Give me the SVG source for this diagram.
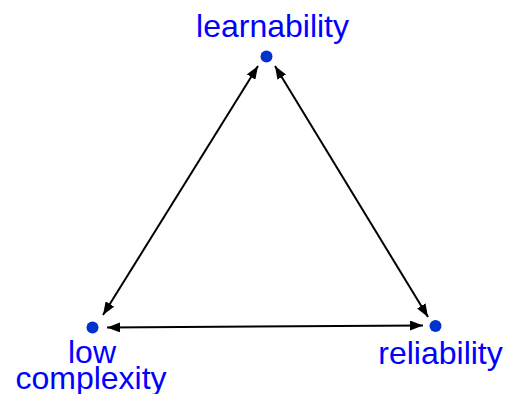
<svg xmlns="http://www.w3.org/2000/svg" width="512" height="394" viewBox="0 0 512 394">
<style>
.lbl{font-family:"Liberation Sans",Arial,sans-serif;font-size:32px;fill:#0000ff;text-anchor:middle}
.dot{fill:#0033cc}
.edge{stroke:#000;stroke-width:2;fill:none;marker-start:url(#ah);marker-end:url(#ah)}
</style>
<defs>
<marker id="ah" markerUnits="userSpaceOnUse" markerWidth="14" markerHeight="10" refX="13" refY="5" orient="auto-start-reverse" viewBox="0 0 14 10">
<path d="M0,0 L13,5 L0,10 Z" fill="#000"/>
</marker>
</defs>
<rect width="512" height="394" fill="#fff"/>
<g id="connectors">
<line class="edge" x1="258" y1="66" x2="103" y2="315"/>
<line class="edge" x1="275" y1="66" x2="428" y2="317"/>
<line class="edge" x1="107" y1="327.5" x2="423" y2="325.5"/>
</g>
<g id="learnability">
<circle class="dot" cx="266.5" cy="56.5" r="6"/>
<text class="lbl" x="272.5" y="37">learnability</text>
</g>
<g id="low-complexity">
<circle class="dot" cx="92.5" cy="327.5" r="6"/>
<text class="lbl" x="92" y="363">low</text>
<text class="lbl" x="91" y="389">complexity</text>
</g>
<g id="reliability">
<circle class="dot" cx="435.5" cy="326" r="6"/>
<text class="lbl" x="440.5" y="364">reliability</text>
</g>
</svg>
